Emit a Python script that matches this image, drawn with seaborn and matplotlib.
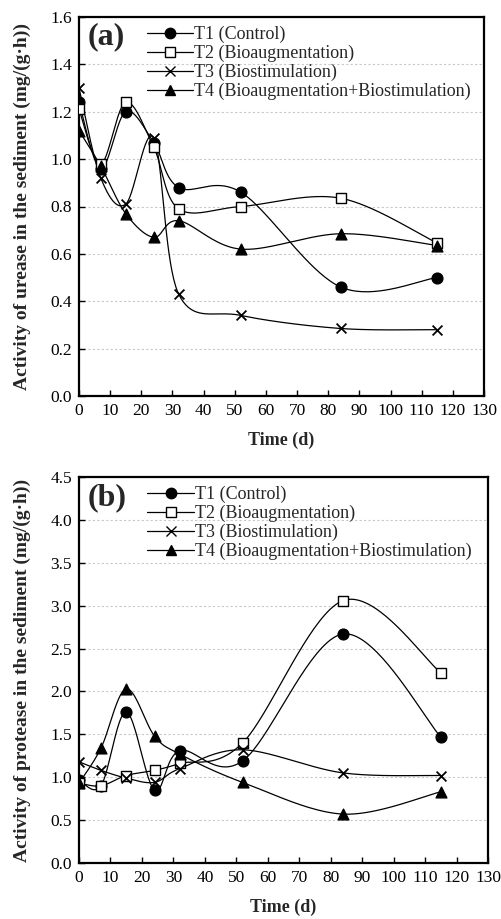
import numpy as np
import pandas as pd
import matplotlib
matplotlib.use("Agg")
import matplotlib.pyplot as plt
import seaborn as sns

days = [0, 7, 15, 24, 32, 52, 84, 115]
series_names = ["T1 (Control)", "T2 (Bioaugmentation)", "T3 (Biostimulation)",
                "T4 (Bioaugmentation+Biostimulation)"]

urease_t1 = [1.24, 0.96, 1.20, 1.07, 0.88, 0.86, 0.46, 0.50]
urease_t2 = [1.21, 0.98, 1.24, 1.05, 0.79, 0.80, 0.835, 0.645]
urease_t3 = [1.30, 0.92, 0.81, 1.09, 0.43, 0.34, 0.285, 0.28]
urease_t4 = [1.12, 0.97, 0.77, 0.67, 0.74, 0.62, 0.685, 0.635]

protease_t1 = [0.97, 0.90, 1.76, 0.85, 1.31, 1.19, 2.67, 1.47]
protease_t2 = [0.93, 0.90, 1.02, 1.08, 1.16, 1.40, 3.06, 2.22]
protease_t3 = [1.18, 1.08, 0.99, 0.94, 1.10, 1.32, 1.05, 1.02]
protease_t4 = [0.93, 1.34, 2.03, 1.48, 1.27, 0.94, 0.57, 0.83]

sns.set_theme(style="white")
plt.rcParams['font.family'] = ['Liberation Serif', 'DejaVu Serif']

markers = dict(zip(series_names, ['o', 's', 'x', '^']))
mfc = dict(zip(series_names, ['black', 'white', 'black', 'black']))


def smooth(xs, ys, sx, sy, n=40):
    # Bezier smoothing in scaled (pixel-like) space, used only to draw the curve
    P = np.column_stack([np.asarray(xs, float) * sx, np.asarray(ys, float) * sy])
    P = np.vstack([P[0], P, P[-1]])
    out = []
    for i in range(1, len(P) - 2):
        p0, p1, p2, p3 = P[i - 1], P[i], P[i + 1], P[i + 2]
        c1 = p1 + (p2 - p0) / 6.0
        c2 = p2 - (p3 - p1) / 6.0
        t = np.linspace(0, 1, n)[:, None]
        b = ((1 - t) ** 3) * p1 + 3 * ((1 - t) ** 2) * t * c1 + 3 * (1 - t) * t ** 2 * c2 + t ** 3 * p2
        if i > 1:
            b = b[1:]
        out.append(b)
    out = np.vstack(out)
    return out[:, 0] / sx, out[:, 1] / sy


fig = plt.figure(figsize=(5.01, 9.19), dpi=100)
ax1 = fig.add_axes([79 / 501, 1 - 396 / 919, (484 - 79) / 501, (396 - 17) / 919])
ax2 = fig.add_axes([79 / 501, 1 - 863 / 919, (488 - 79) / 501, (863 - 477) / 919])

panels = [
    (ax1, [urease_t1, urease_t2, urease_t3, urease_t4], 1.6, 0.2, "(a)",
     "Activity of urease in the sediment (mg/(g\u00b7h))"),
    (ax2, [protease_t1, protease_t2, protease_t3, protease_t4], 4.5, 0.5, "(b)",
     "Activity of protease in the sediment (mg/(g\u00b7h))"),
]

for ax, data, ymax, ystep, tag, ylabel in panels:
    bbox = ax.get_position()
    wpx = bbox.width * 501
    hpx = bbox.height * 919
    sx = wpx / 130.0
    sy = hpx / ymax
    for name, vals in zip(series_names, data):
        cx, cy = smooth(days, vals, sx, sy)
        sns.lineplot(x=cx, y=cy, ax=ax, color='black', lw=0.9, sort=False,
                     estimator=None, legend=False)
    for name, vals in zip(series_names, data):
        sns.scatterplot(x=days, y=vals, ax=ax, marker=markers[name],
                        s=60 if markers[name] != 'x' else 50,
                        color=mfc[name], edgecolor='black',
                        linewidth=1.0 if markers[name] != 'x' else 1.3,
                        zorder=5, legend=False)
    ax.set_xlim(0, 130)
    ax.set_ylim(0, ymax)
    ax.set_xticks(np.arange(0, 131, 10))
    yt = np.arange(0, ymax + 1e-9, ystep)
    ax.set_yticks(yt)
    ax.set_yticklabels([f"{v:.1f}" for v in yt])
    ax.tick_params(axis='both', direction='in', length=4, width=1.0, labelsize=12.5,
                   colors='black', pad=5)
    ax.tick_params(axis='both', bottom=True, left=True)
    for sp in ax.spines.values():
        sp.set_color('black')
        sp.set_linewidth(1.6)
    ax.yaxis.grid(True, color='#c8c8c8', linestyle=(0, (2, 2)), lw=0.8)
    ax.xaxis.grid(False)
    ax.set_axisbelow(True)
    ax.set_xlabel("Time (d)", fontsize=13, fontweight='bold', labelpad=9)
    ax.set_ylabel(ylabel, fontsize=14, fontweight='bold')
    ax.yaxis.set_label_coords(-48 / wpx, 0.5)
    ax.text(0.022, 0.985, tag, transform=ax.transAxes, fontsize=23,
            fontweight='bold', va='top', ha='left')
    handles = [plt.Line2D([], [], color='black', lw=0.9, marker=markers[n],
                          markersize=7.5, markerfacecolor=mfc[n],
                          markeredgecolor='black', markeredgewidth=1.0)
               for n in series_names]
    ax.legend(handles, series_names, loc='upper left',
              bbox_to_anchor=(0.14, 1.0 + 2 / hpx), frameon=False, fontsize=13,
              handlelength=2.6, handletextpad=0.05, labelspacing=0.1,
              borderaxespad=0.2)

fig.savefig("out.png", dpi=100)
